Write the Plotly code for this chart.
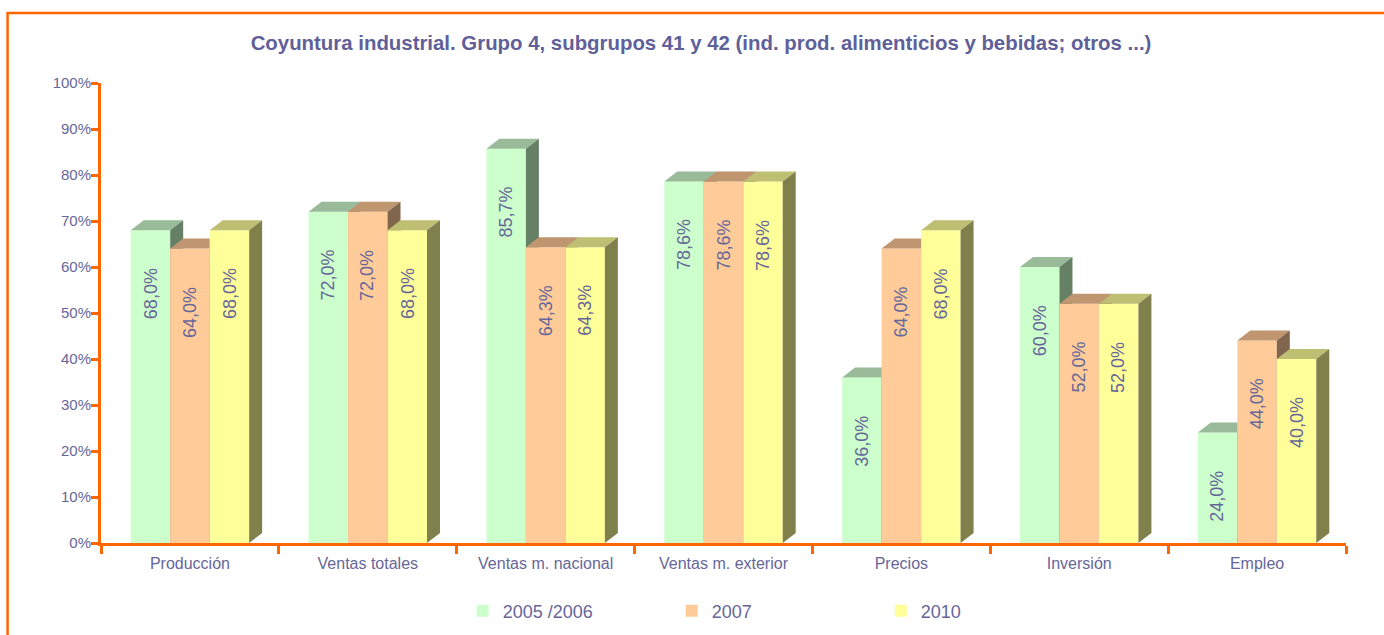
import plotly.graph_objects as go

# ---------------- data ----------------
categories = ["Producción", "Ventas totales", "Ventas m. nacional", "Ventas m. exterior",
              "Precios", "Inversión", "Empleo"]
series_names = ["2005 /2006", "2007", "2010"]
v_2005_2006 = [68.0, 72.0, 85.7, 78.6, 36.0, 60.0, 24.0]
v_2007 = [64.0, 72.0, 64.3, 78.6, 64.0, 52.0, 44.0]
v_2010 = [68.0, 68.0, 64.3, 78.6, 68.0, 52.0, 40.0]
y_tick_values = [0, 10, 20, 30, 40, 50, 60, 70, 80, 90, 100]
y_tick_labels = ["0%", "10%", "20%", "30%", "40%", "50%", "60%", "70%", "80%", "90%", "100%"]
title_text = "Coyuntura industrial. Grupo 4, subgrupos 41 y 42 (ind. prod. alimenticios y bebidas; otros ...)"

series_values = [v_2005_2006, v_2007, v_2010]

# ---------------- style ----------------
front_colors = ["#CCFFCC", "#FFCC99", "#FFFF99"]
top_colors = ["#99BB99", "#C09670", "#BFBF73"]
side_colors = ["#668066", "#80664D", "#80804D"]
ORANGE = "#FF6600"
TEXT = "#666699"
FONT = "Liberation Sans, Arial, sans-serif"
BAR_W = 0.222     # bar width in category units
DEPTH_X = 0.073   # 3-D depth, x (category units)
DEPTH_Y = 2.17    # 3-D depth, y (percentage points)

idx = list(range(len(categories)))
fig = go.Figure()

for s, vals in enumerate(series_values):
    xa = "x" if s == 0 else f"x{s + 1}"
    ya = "y" if s == 0 else f"y{s + 1}"
    off = -1.5 * BAR_W + s * BAR_W
    # front faces
    fig.add_trace(go.Bar(
        x=idx, y=vals, width=BAR_W, offset=off, name=series_names[s],
        marker=dict(color=front_colors[s], line=dict(width=0)),
        xaxis=xa, yaxis=ya, hoverinfo="skip", showlegend=True,
    ))
    # top faces
    tx, ty = [], []
    for i, v in enumerate(vals):
        xl = i + off
        xr = xl + BAR_W
        tx += [xl, xl + DEPTH_X, xr + DEPTH_X, xr, xl, None]
        ty += [v, v + DEPTH_Y, v + DEPTH_Y, v, v, None]
    fig.add_trace(go.Scatter(
        x=tx, y=ty, fill="toself", fillcolor=top_colors[s], mode="lines",
        line=dict(width=0, color=top_colors[s]), xaxis=xa, yaxis=ya,
        hoverinfo="skip", showlegend=False,
    ))
    # side faces
    sx, sy = [], []
    for i, v in enumerate(vals):
        xr = i + off + BAR_W
        sx += [xr, xr, xr + DEPTH_X, xr + DEPTH_X, xr, None]
        sy += [0, v, v + DEPTH_Y, DEPTH_Y, 0, None]
    fig.add_trace(go.Scatter(
        x=sx, y=sy, fill="toself", fillcolor=side_colors[s], mode="lines",
        line=dict(width=0, color=side_colors[s]), xaxis=xa, yaxis=ya,
        hoverinfo="skip", showlegend=False,
    ))

# value labels
annotations = []
for s, vals in enumerate(series_values):
    off = -1.5 * BAR_W + s * BAR_W
    for i, v in enumerate(vals):
        annotations.append(dict(
            x=i + off + BAR_W / 2, y=v, xref="x", yref="y",
            text=f"{v:.1f}%".replace(".", ","), showarrow=False,
            textangle=-90, yanchor="top", xanchor="center", yshift=-36,
            font=dict(family=FONT, size=18, color=TEXT),
        ))

x_range = [-0.5, len(categories) - 0.5]
y_range = [0, 100]

axis_hidden = dict(range=x_range, visible=False, fixedrange=True)
fig.update_layout(
    width=1384, height=635,
    margin=dict(l=101, r=38, t=83, b=92, autoexpand=False),
    paper_bgcolor="white", plot_bgcolor="white",
    font=dict(family=FONT, color=TEXT),
    title=dict(text=title_text, x=701 / 1384, xanchor="center", xref="container",
               y=1 - 43 / 635, yref="container", yanchor="middle",
               font=dict(family=FONT, size=20.4, color="#5F5F99", weight="bold")),
    xaxis=dict(range=x_range, tickmode="array", tickvals=idx, ticktext=categories,
               ticks="", showline=True, linecolor=ORANGE, linewidth=2.5,
               showgrid=False, zeroline=False, ticklabelstandoff=4, automargin=False,
               tickfont=dict(family=FONT, size=16, color=TEXT),
               minor=dict(tickmode="array",
                          tickvals=[i - 0.5 for i in range(len(categories) + 1)],
                          ticks="outside", ticklen=8, tickwidth=2.5, tickcolor=ORANGE,
                          showgrid=False)),
    yaxis=dict(range=y_range, tickmode="array", tickvals=y_tick_values,
               ticktext=y_tick_labels, ticks="outside", ticklen=7, tickwidth=2.5,
               tickcolor=ORANGE, showline=True, linecolor=ORANGE, linewidth=3,
               showgrid=False, zeroline=False, automargin=False, ticklabelstandoff=-3,
               tickfont=dict(family=FONT, size=15, color=TEXT)),
    xaxis2=dict(axis_hidden, overlaying="x"),
    xaxis3=dict(axis_hidden, overlaying="x"),
    yaxis2=dict(range=y_range, visible=False, overlaying="y", fixedrange=True),
    yaxis3=dict(range=y_range, visible=False, overlaying="y", fixedrange=True),
    barmode="overlay",
    showlegend=True,
    legend=dict(orientation="h", x=(463 - 101) / 1246, xanchor="left",
                y=-(611 - 543) / 460, yanchor="middle",
                entrywidth=164, entrywidthmode="pixels",
                font=dict(family=FONT, size=18, color=TEXT),
                bgcolor="rgba(0,0,0,0)"),
    annotations=annotations,
    shapes=[dict(type="rect", xref="paper", yref="paper",
                 x0=(7.5 - 101) / 1246, x1=(1420 - 101) / 1246,
                 y0=-(660 - 543) / 460, y1=(543 - 13) / 460,
                 line=dict(color=ORANGE, width=2.5), fillcolor="rgba(0,0,0,0)",
                 layer="above")],
)

fig.write_html("out.html", config={"displayModeBar": False},
               post_script="document.body.style.margin='0';document.body.style.overflow='hidden';")
